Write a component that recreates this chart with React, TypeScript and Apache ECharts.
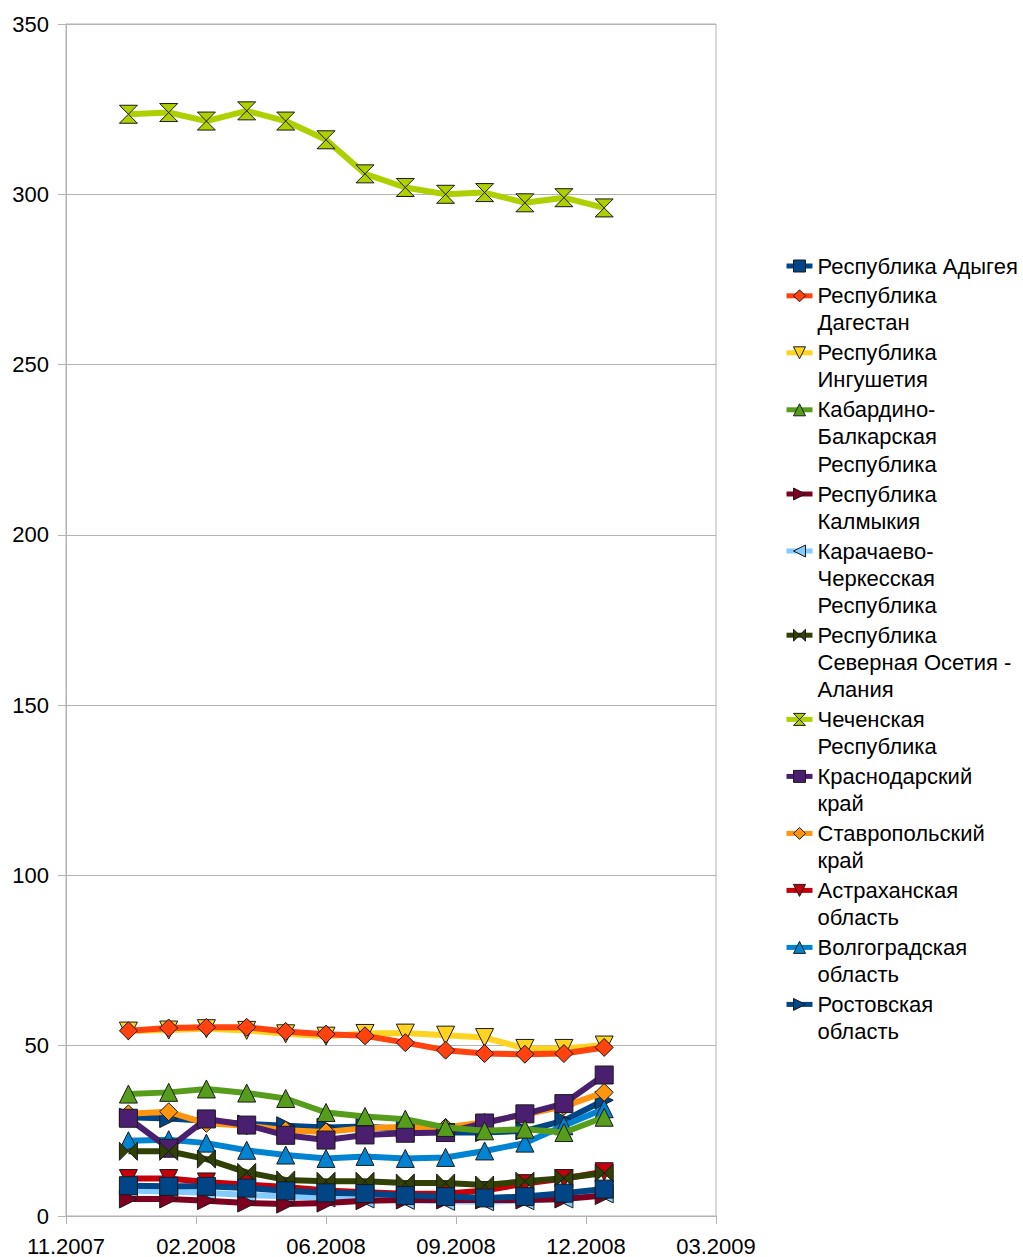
import React, { useEffect, useRef } from 'react';
import * as echarts from 'echarts';

const dates = [
  '2008-01-01', '2008-02-01', '2008-03-01', '2008-04-01', '2008-05-01', '2008-06-01', '2008-07-01',
  '2008-08-01', '2008-09-01', '2008-10-01', '2008-11-01', '2008-12-01', '2009-01-01',
];
const tickLabels = ['11.2007', '02.2008', '06.2008', '09.2008', '12.2008', '03.2009'];

const seriesNames = [
  'Республика Адыгея',
  'Республика Дагестан',
  'Республика Ингушетия',
  'Кабардино-Балкарская Республика',
  'Республика Калмыкия',
  'Карачаево-Черкесская Республика',
  'Республика Северная Осетия - Алания',
  'Чеченская Республика',
  'Краснодарский край',
  'Ставропольский край',
  'Астраханская область',
  'Волгоградская область',
  'Ростовская область',
];
const legendLabels = [
  'Республика Адыгея',
  'Республика\nДагестан',
  'Республика\nИнгушетия',
  'Кабардино-\nБалкарская\nРеспублика',
  'Республика\nКалмыкия',
  'Карачаево-\nЧеркесская\nРеспублика',
  'Республика\nСеверная Осетия -\nАлания',
  'Чеченская\nРеспублика',
  'Краснодарский\nкрай',
  'Ставропольский\nкрай',
  'Астраханская\nобласть',
  'Волгоградская\nобласть',
  'Ростовская\nобласть',
];

const adygea = [8.9, 8.7, 8.7, 8.2, 7.4, 6.8, 6.6, 6.0, 5.7, 5.3, 5.7, 6.7, 7.9];
const dagestan = [54.4, 55.2, 55.4, 55.4, 54.2, 53.4, 52.9, 50.9, 48.7, 47.7, 47.5, 47.7, 49.5];
const ingushetia = [54.3, 54.6, 55.0, 54.5, 53.5, 52.8, 53.6, 53.7, 53.1, 52.4, 49.2, 49.2, 50.2];
const kabardino = [35.8, 36.3, 37.3, 36.1, 34.5, 30.4, 29.2, 28.4, 26.0, 25.0, 25.5, 24.5, 29.0];
const kalmykia = [5.0, 5.0, 4.5, 3.8, 3.5, 3.8, 4.5, 4.7, 4.7, 4.7, 4.7, 5.0, 6.0];
const karachay = [7.5, 7.2, 6.8, 6.2, 5.8, 5.3, 5.0, 4.6, 4.3, 4.2, 4.5, 5.0, 6.5];
const ossetia = [19.0, 19.0, 16.7, 12.8, 10.6, 10.2, 10.2, 9.7, 9.7, 9.1, 10.2, 11.1, 12.6];
const chechnya = [323.5, 324.0, 321.5, 324.5, 321.5, 316.0, 306.0, 302.0, 300.0, 300.5, 297.5, 299.0, 296.0];
const krasnodar = [28.7, 19.9, 28.5, 26.7, 23.7, 22.3, 23.8, 24.3, 24.5, 27.3, 30.0, 33.0, 41.4];
const stavropol = [30.0, 30.6, 27.2, 26.5, 25.2, 24.7, 25.8, 26.2, 26.0, 27.5, 29.8, 32.2, 36.3];
const astrakhan = [11.0, 11.0, 10.0, 9.2, 8.5, 7.5, 7.0, 6.5, 6.5, 7.5, 9.5, 11.0, 13.0];
const volgograd = [22.1, 22.4, 21.4, 19.3, 17.9, 16.9, 17.5, 16.9, 17.2, 19.1, 21.4, 26.5, 31.5];
const rostov = [29.0, 28.6, 28.0, 27.0, 26.5, 26.0, 26.3, 25.5, 24.5, 24.5, 25.0, 28.0, 34.0];

const seriesValues = [
  adygea, dagestan, ingushetia, kabardino, kalmykia, karachay, ossetia,
  chechnya, krasnodar, stavropol, astrakhan, volgograd, rostov,
];

// styles
const colors = [
  '#004586', '#ff420e', '#ffd320', '#579d1c', '#7e0021', '#83caff', '#314004',
  '#aecf00', '#4b1f6f', '#ff950e', '#c5000b', '#0084d1', '#004586',
];
const BOWTIE = 'path://M0,0 L10,10 L10,0 L0,10 Z';
const HOURGLASS = 'path://M0,0 L10,0 L0,10 L10,10 Z';
const symbols = [
  'rect', 'diamond', 'triangle', 'triangle', 'triangle', 'triangle', BOWTIE,
  HOURGLASS, 'rect', 'diamond', 'triangle', 'triangle', 'triangle',
];
const rotations = [0, 0, 180, 0, -90, 90, 0, 0, 0, 0, 180, 0, -90];

const FONT = "'Liberation Sans', Arial, sans-serif";
const AXIS_START = 39400; // spreadsheet serial day number
const AXIS_STEP = 100;

function toSerial(d: string): number {
  const [y, m, day] = d.split('-').map(Number);
  return Date.UTC(y, m - 1, day) / 86400000 + 25569;
}

export default function App() {
  const ref = useRef<HTMLDivElement>(null);

  useEffect(() => {
    document.body.style.margin = '0';
    if (!ref.current) return;
    const chart = echarts.init(ref.current, null, { renderer: 'svg' });
    const xs = dates.map(toSerial);

    const LINE_H = 27.2;
    const ITEM_GAP = 2.6;
    let y1 = 266;
    const legends = seriesNames.map((name, i) => {
      const label = legendLabels[i];
      const n = label.split('\n').length;
      // blank lines above keep the first line level with the icon
      const padded = '\n'.repeat(n - 1) + label;
      const top = y1 - ((2 * n - 1) * LINE_H) / 2;
      y1 += n * LINE_H + ITEM_GAP;
      return {
        show: true,
        orient: 'vertical',
        left: 784,
        top,
        padding: 0,
        itemWidth: 26,
        itemHeight: 15,
        selectedMode: false,
        data: [name],
        formatter: () => padded,
        lineStyle: { width: 5 },
        itemStyle: { borderWidth: 1, borderColor: '#1a1a1a' },
        textStyle: {
          fontFamily: FONT,
          fontSize: 22,
          lineHeight: LINE_H,
          color: '#000',
        },
      };
    });

    const option = {
      animation: false,
      backgroundColor: '#fff',
      grid: {
        left: 66,
        right: 307,
        top: 24,
        bottom: 40,
        show: true,
        borderColor: '#b3b3b3',
        borderWidth: 1,
      },
      legend: legends,
      xAxis: {
        type: 'value',
        min: AXIS_START,
        max: AXIS_START + AXIS_STEP * (tickLabels.length - 1),
        interval: AXIS_STEP,
        axisLine: { show: true, lineStyle: { color: '#b3b3b3' } },
        axisTick: { show: true, length: 8, lineStyle: { color: '#b3b3b3' } },
        splitLine: { show: false },
        axisLabel: {
          showMinLabel: true,
          showMaxLabel: true,
          margin: 19,
          fontFamily: FONT,
          fontSize: 22,
          color: '#000',
          formatter: (v: number) => tickLabels[Math.round((v - AXIS_START) / AXIS_STEP)] ?? '',
        },
      },
      yAxis: {
        type: 'value',
        min: 0,
        max: 350,
        interval: 50,
        axisLine: { show: true, lineStyle: { color: '#b3b3b3' } },
        axisTick: { show: true, length: 8, lineStyle: { color: '#b3b3b3' } },
        splitLine: { show: true, lineStyle: { color: '#b3b3b3' } },
        axisLabel: {
          margin: 17,
          fontFamily: FONT,
          fontSize: 22,
          color: '#000',
        },
      },
      series: seriesNames.map((name, i) => ({
        type: 'line',
        name,
        data: xs.map((x, j) => [x, seriesValues[i][j]]),
        symbol: symbols[i],
        symbolSize: 18,
        symbolRotate: rotations[i],
        z: 40 - i,
        lineStyle: { width: 6, color: colors[i] },
        itemStyle: { color: colors[i], borderColor: '#1a1a1a', borderWidth: 1 },
        emphasis: { disabled: true },
      })),
    };

    chart.setOption(option as any);
    return () => chart.dispose();
  }, []);

  return <div ref={ref} style={{ width: 1023, height: 1257 }} />;
}
